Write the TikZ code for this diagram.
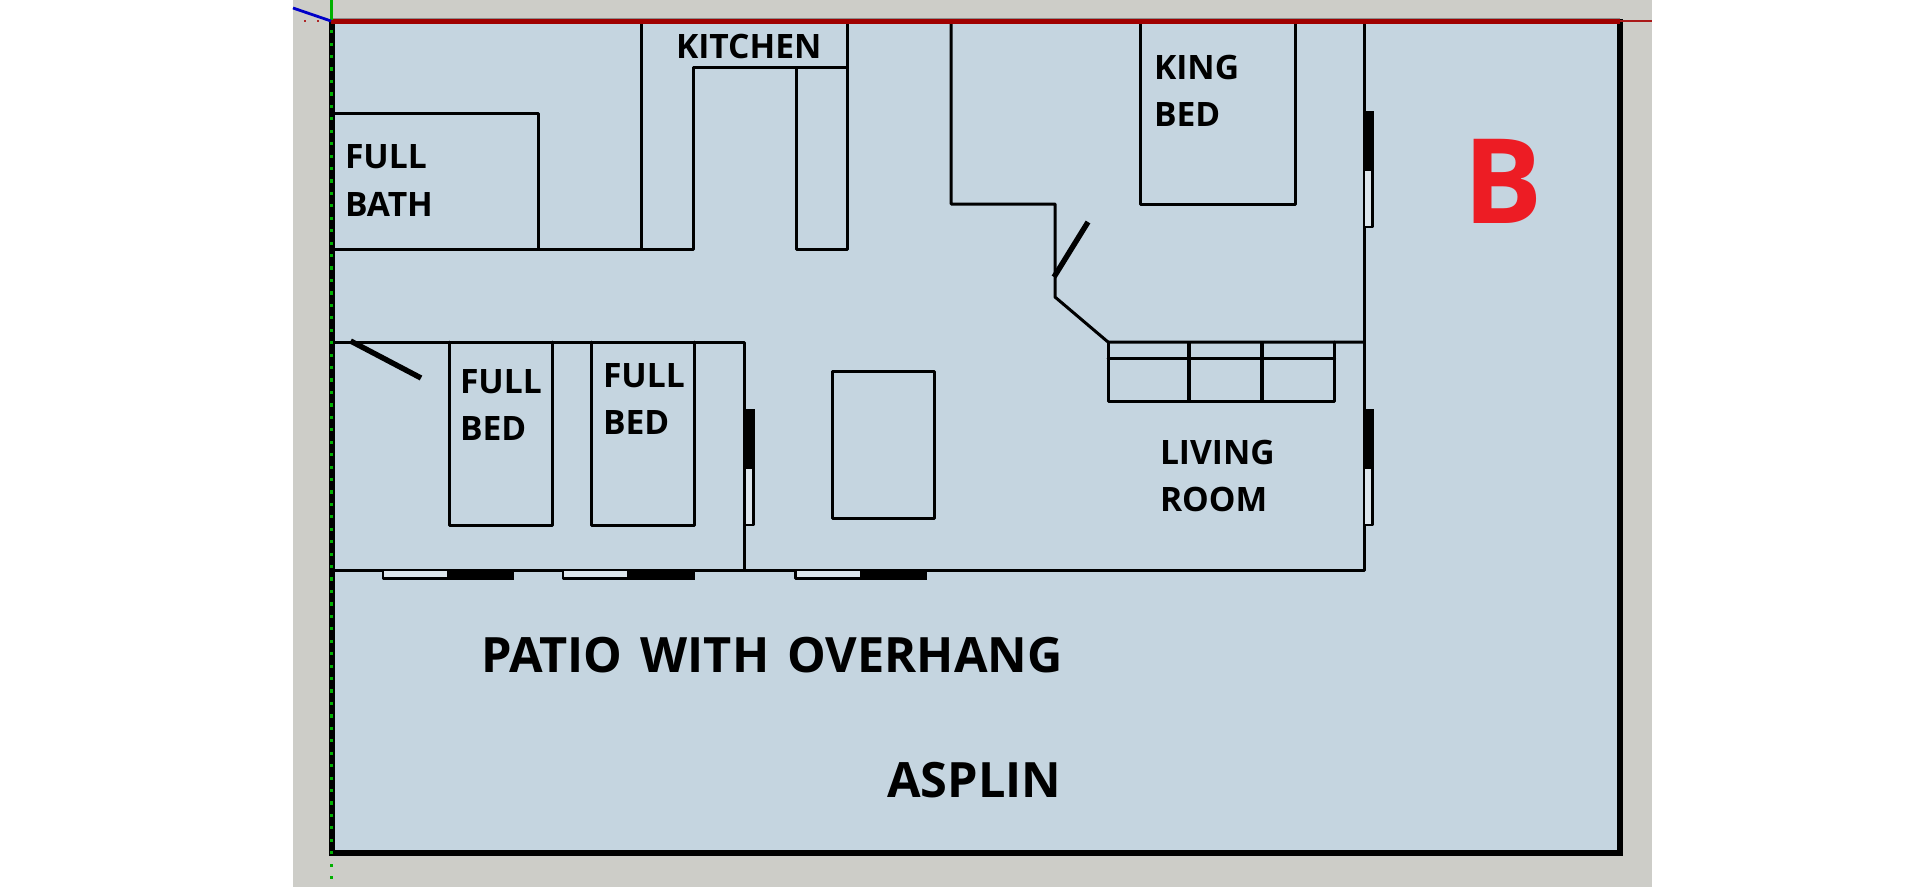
\documentclass[tikz,border=0pt]{standalone}
\usepackage{fontspec}
\setmainfont{Open Sans}
\definecolor{ground}{HTML}{CDCDC8}
\definecolor{plan}{HTML}{C5D5E0}
\definecolor{axisgreen}{HTML}{00B000}
\definecolor{axisred}{HTML}{A00000}
\definecolor{axisblue}{HTML}{0000C8}
\definecolor{letter}{HTML}{ED1C24}
\definecolor{pane}{HTML}{DDE6EC}
\tikzset{
  wall/.style={draw=black,line width=3pt,line join=round,line cap=round},
  heavy/.style={draw=black,line width=6pt},
  swing/.style={draw=black,line width=5.4pt},
  winbox/.style={draw=black,line width=2.4pt,fill=pane,line join=round},
  winblack/.style={fill=black},
  lab/.style={anchor=base west,inner sep=0pt,outer sep=0pt,font=\fontsize{33.6}{40}\selectfont\bfseries,text=black},
  biglab/.style={anchor=base west,inner sep=0pt,outer sep=0pt,font=\fontsize{48.7}{56}\selectfont\bfseries,text=black},
}
\begin{document}
\begin{tikzpicture}[x=1pt,y=-1pt]
\useasboundingbox (0,0) rectangle (1920,887);
\fill[white] (0,0) rectangle (1920,887);
\fill[ground] (293,0) rectangle (1652,887);
\fill[plan] (331,21) rectangle (1620,852);
% house walls
\draw[wall] (641,21) -- (641,249);
\draw[wall] (847,21) -- (847,249) -- (796,249) -- (796,67) -- (847,67);
\draw[wall] (796,67) -- (693,67) -- (693,249) -- (331,249);
\draw[wall] (331,113) -- (538,113) -- (538,249);
\draw[wall] (951,21) -- (951,204) -- (1055,204) -- (1055,297) -- (1108,342) -- (1364,342);
\draw[wall] (1140,21) -- (1140,204) -- (1295,204) -- (1295,21);
\draw[wall] (1364,21) -- (1364,570) -- (331,570);
\draw[wall] (331,342) -- (744.5,342) -- (744.5,570);
\draw[wall] (449.4,342) -- (449.4,525) -- (552,525) -- (552,342);
\draw[wall] (591.4,342) -- (591.4,525) -- (694.7,525) -- (694.7,342);
\draw[wall] (832,371) rectangle (934,518);
% sofa
\draw[wall] (1108,342) -- (1108,401.7) -- (1334.7,401.7) -- (1334.7,342);
\draw[wall] (1108,358) -- (1334.7,358);
\draw[draw=black,line width=3.4pt] (1189,342) -- (1189,401.7);
\draw[draw=black,line width=3.4pt] (1262,342) -- (1262,401.7);
% doors
\draw[swing] (1054,277) -- (1088,222);
\draw[swing] (350.6,341) -- (421,378);
% windows on vertical walls
\draw[winbox] (1364,112) rectangle (1372.5,227);
\fill[winblack] (1364,111) rectangle (1373.7,171);
\draw[winbox] (744.5,410) rectangle (753.5,525);
\fill[winblack] (744.5,409) rectangle (754.7,469);
\draw[winbox] (1364,410) rectangle (1372.5,525);
\fill[winblack] (1364,409) rectangle (1373.7,469);
% windows on the bottom wall
\draw[winbox] (383,570) rectangle (513,578.5);
\fill[winblack] (447,570) rectangle (514.2,579.7);
\draw[winbox] (563,570) rectangle (693.5,578.5);
\fill[winblack] (627,570) rectangle (694.7,579.7);
\draw[winbox] (795.5,570) rectangle (926,578.5);
\fill[winblack] (859.6,570) rectangle (927.2,579.7);
% outer border
\draw[heavy] (331.7,18.5) -- (331.7,852.5) -- (1620,852.5) -- (1620,18.5);
% axes
\draw[draw=axisred!90!white,line width=2pt] (1600,21) -- (1652,21);
\draw[draw=black!45,line width=1.2pt] (331,18.6) -- (1620,18.6);
\draw[draw=axisred,line width=4.6pt] (331,21.2) -- (1620,21.2);
\draw[draw=axisgreen,line width=3.2pt] (331.7,0) -- (331.7,20);
\draw[draw=axisblue,line width=2.8pt] (293,8) -- (331,21);
\foreach \dotx in {305,318}
  \fill[axisred!85!white] (\dotx-1.4,19.6) rectangle (\dotx+1.4,22.4);
\foreach \doty in {0,...,68}
  \fill[axisgreen] (330,{31.7+12.44*\doty-1.6}) rectangle (333.2,{31.7+12.44*\doty+1.6});
% labels
\node[lab] (kitchen) at (676,58) {KITCHEN};
\node[lab] (bathA) at (345,168) {FULL};
\node[lab] (bathB) at (345,216) {BATH};
\node[lab] (kingA) at (1154,79) {KING};
\node[lab] (kingB) at (1154,126) {BED};
\node[lab] (bedAa) at (460,393) {FULL};
\node[lab] (bedAb) at (460,440) {BED};
\node[lab] (bedBa) at (603,387) {FULL};
\node[lab] (bedBb) at (603,434) {BED};
\node[lab] (livingA) at (1160,464) {LIVING};
\node[lab] (livingB) at (1160,511) {ROOM};
\node[biglab] (patio) at (481,672.7) {\spaceskip=18.2pt\relax PATIO WITH OVERHANG};
\node[biglab] (asplin) at (887,797.3) {ASPLIN};
\node[anchor=base west,inner sep=0pt,font=\fontsize{118}{130}\selectfont\bfseries,text=letter] (bee) at (1463,223) {B};
\end{tikzpicture}
\end{document}
